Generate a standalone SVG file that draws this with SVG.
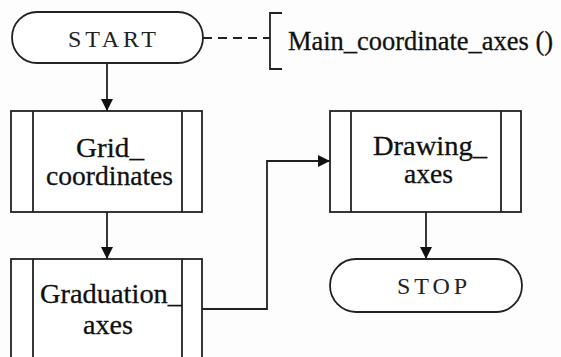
<svg xmlns="http://www.w3.org/2000/svg" width="561" height="357" viewBox="0 0 561 357">
<style>
.s{fill:#fff;stroke:#222;stroke-width:1.8}
.l{fill:none;stroke:#222;stroke-width:1.8}
text{font-family:"Liberation Serif","DejaVu Serif","Times New Roman",serif}
.t{font-size:27px;fill:#111;stroke:#111;stroke-width:0.3}
.tt{font-size:24px;fill:#222}
</style>
<defs>
<marker id="ah" viewBox="0 0 12 12" refX="12" refY="6" markerWidth="12" markerHeight="12" markerUnits="userSpaceOnUse" orient="auto">
<path d="M0,0 L12,6 L0,12 Z" fill="#111"/>
</marker>
</defs>
<rect width="561" height="357" fill="#fdfdfd"/>
<g id="connectors">
<line class="l" x1="107" y1="63" x2="107" y2="111" marker-end="url(#ah)"/>
<line class="l" x1="107" y1="212" x2="107" y2="259" marker-end="url(#ah)"/>
<polyline class="l" points="202,309 267,309 267,161 330,161" marker-end="url(#ah)"/>
<line class="l" x1="426" y1="212" x2="426" y2="259" marker-end="url(#ah)"/>
<line class="l" x1="203" y1="38" x2="270" y2="38" stroke-dasharray="9 6"/>
</g>
<g id="start">
<rect class="s" x="12" y="12" width="191" height="51" rx="25" ry="25.5"/>
<text class="tt" x="68" y="47" textLength="88" lengthAdjust="spacing" font-family="Liberation Serif, serif">START</text>
</g>
<g id="comment">
<path class="l" d="M282,13 H270 V69 H282"/>
<text class="t" x="288" y="50" textLength="265" lengthAdjust="spacingAndGlyphs">Main_coordinate_axes ()</text>
</g>
<g id="grid">
<rect class="s" x="11" y="111" width="191" height="101"/>
<line class="l" x1="33" y1="111" x2="33" y2="212"/>
<line class="l" x1="182" y1="111" x2="182" y2="212"/>
<text class="t" x="76" y="157" textLength="68" lengthAdjust="spacingAndGlyphs">Grid_</text>
<text class="t" x="46" y="185" textLength="127" lengthAdjust="spacingAndGlyphs">coordinates</text>
</g>
<g id="graduation">
<rect class="s" x="11" y="259" width="191" height="120"/>
<line class="l" x1="33" y1="259" x2="33" y2="379"/>
<line class="l" x1="182" y1="259" x2="182" y2="379"/>
<text class="t" x="40" y="303" textLength="142" lengthAdjust="spacingAndGlyphs">Graduation_</text>
<text class="t" x="83" y="334" textLength="50" lengthAdjust="spacingAndGlyphs">axes</text>
</g>
<g id="drawing">
<rect class="s" x="330" y="111" width="191" height="101"/>
<line class="l" x1="351" y1="111" x2="351" y2="212"/>
<line class="l" x1="501" y1="111" x2="501" y2="212"/>
<text class="t" x="373" y="155" textLength="114" lengthAdjust="spacingAndGlyphs">Drawing_</text>
<text class="t" x="404" y="183" textLength="49" lengthAdjust="spacingAndGlyphs">axes</text>
</g>
<g id="stop">
<rect class="s" x="330" y="259" width="192" height="53" rx="26" ry="26.5"/>
<text class="tt" x="397" y="294" textLength="70" lengthAdjust="spacing">STOP</text>
</g>
</svg>
